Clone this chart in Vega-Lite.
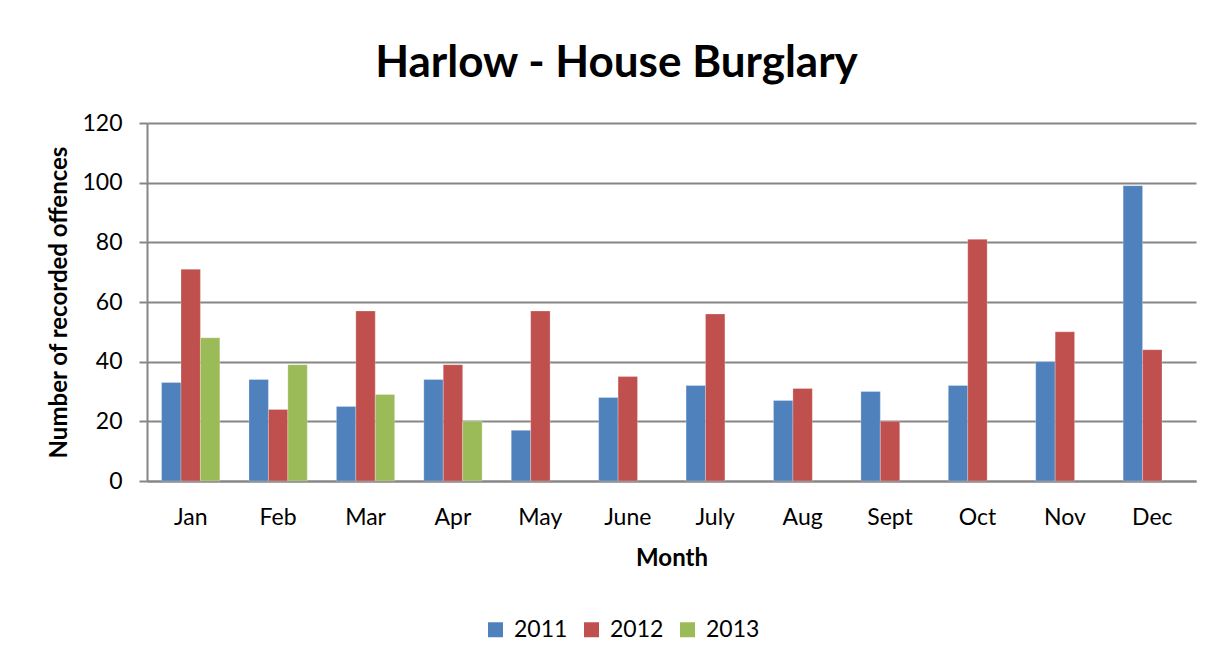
{
  "$schema": "https://vega.github.io/schema/vega-lite/v6.json",
  "autosize": "none",
  "width": 1049,
  "height": 358,
  "padding": {"left": 147, "top": 123, "right": 25, "bottom": 180},
  "background": "white",
  "title": {
    "text": "Harlow - House Burglary",
    "font": "Lato",
    "fontSize": 44,
    "fontWeight": "bold",
    "color": "black",
    "anchor": "middle",
    "dx": -55,
    "offset": 26
  },
  "data": {
    "values": [
      {"month": "Jan", "year": "2011", "value": 33},
      {"month": "Jan", "year": "2012", "value": 71},
      {"month": "Jan", "year": "2013", "value": 48},
      {"month": "Feb", "year": "2011", "value": 34},
      {"month": "Feb", "year": "2012", "value": 24},
      {"month": "Feb", "year": "2013", "value": 39},
      {"month": "Mar", "year": "2011", "value": 25},
      {"month": "Mar", "year": "2012", "value": 57},
      {"month": "Mar", "year": "2013", "value": 29},
      {"month": "Apr", "year": "2011", "value": 34},
      {"month": "Apr", "year": "2012", "value": 39},
      {"month": "Apr", "year": "2013", "value": 20},
      {"month": "May", "year": "2011", "value": 17},
      {"month": "May", "year": "2012", "value": 57},
      {"month": "June", "year": "2011", "value": 28},
      {"month": "June", "year": "2012", "value": 35},
      {"month": "July", "year": "2011", "value": 32},
      {"month": "July", "year": "2012", "value": 56},
      {"month": "Aug", "year": "2011", "value": 27},
      {"month": "Aug", "year": "2012", "value": 31},
      {"month": "Sept", "year": "2011", "value": 30},
      {"month": "Sept", "year": "2012", "value": 20},
      {"month": "Oct", "year": "2011", "value": 32},
      {"month": "Oct", "year": "2012", "value": 81},
      {"month": "Nov", "year": "2011", "value": 40},
      {"month": "Nov", "year": "2012", "value": 50},
      {"month": "Dec", "year": "2011", "value": 99},
      {"month": "Dec", "year": "2012", "value": 44}
    ]
  },
  "mark": {"type": "bar", "stroke": "white", "strokeOpacity": 0.5, "strokeWidth": 0.5},
  "encoding": {
    "x": {
      "field": "month",
      "type": "nominal",
      "sort": ["Jan", "Feb", "Mar", "Apr", "May", "June", "July", "Aug", "Sept", "Oct", "Nov", "Dec"],
      "scale": {"paddingInner": 0.3333, "paddingOuter": 0.1667},
      "axis": {
        "title": "Month",
        "labelAngle": 0,
        "ticks": false,
        "labelPadding": 25,
        "titlePadding": 17,
        "domainColor": "#868686",
        "domainWidth": 2
      }
    },
    "xOffset": {
      "field": "year",
      "type": "nominal",
      "scale": {"domain": ["2011", "2012", "2013"], "paddingInner": 0, "paddingOuter": 0}
    },
    "y": {
      "field": "value",
      "type": "quantitative",
      "scale": {"domain": [0, 120]},
      "axis": {
        "title": "Number of recorded offences",
        "values": [0, 20, 40, 60, 80, 100, 120],
        "tickSize": 8,
        "tickWidth": 2,
        "tickColor": "#868686",
        "labelPadding": 17,
        "titlePadding": 10,
        "domainColor": "#868686",
        "domainWidth": 2,
        "grid": true,
        "gridColor": "#868686",
        "gridWidth": 2
      }
    },
    "color": {
      "field": "year",
      "type": "nominal",
      "scale": {"domain": ["2011", "2012", "2013"], "range": ["#4F81BD", "#C0504D", "#9BBB59"]},
      "legend": {
        "title": null,
        "orient": "none",
        "direction": "horizontal",
        "legendX": 337,
        "legendY": 495,
        "symbolType": "square",
        "symbolSize": 225,
        "symbolStrokeWidth": 0,
        "labelFontSize": 23,
        "labelOffset": 7,
        "columnPadding": 12
      }
    }
  },
  "config": {
    "font": "Lato",
    "view": {"stroke": null},
    "axis": {
      "labelFont": "Lato",
      "labelFontSize": 23,
      "labelColor": "black",
      "titleFont": "Lato",
      "titleFontSize": 24,
      "titleFontWeight": "bold",
      "titleColor": "black"
    },
    "legend": {"labelFont": "Lato", "labelColor": "black"}
  }
}
